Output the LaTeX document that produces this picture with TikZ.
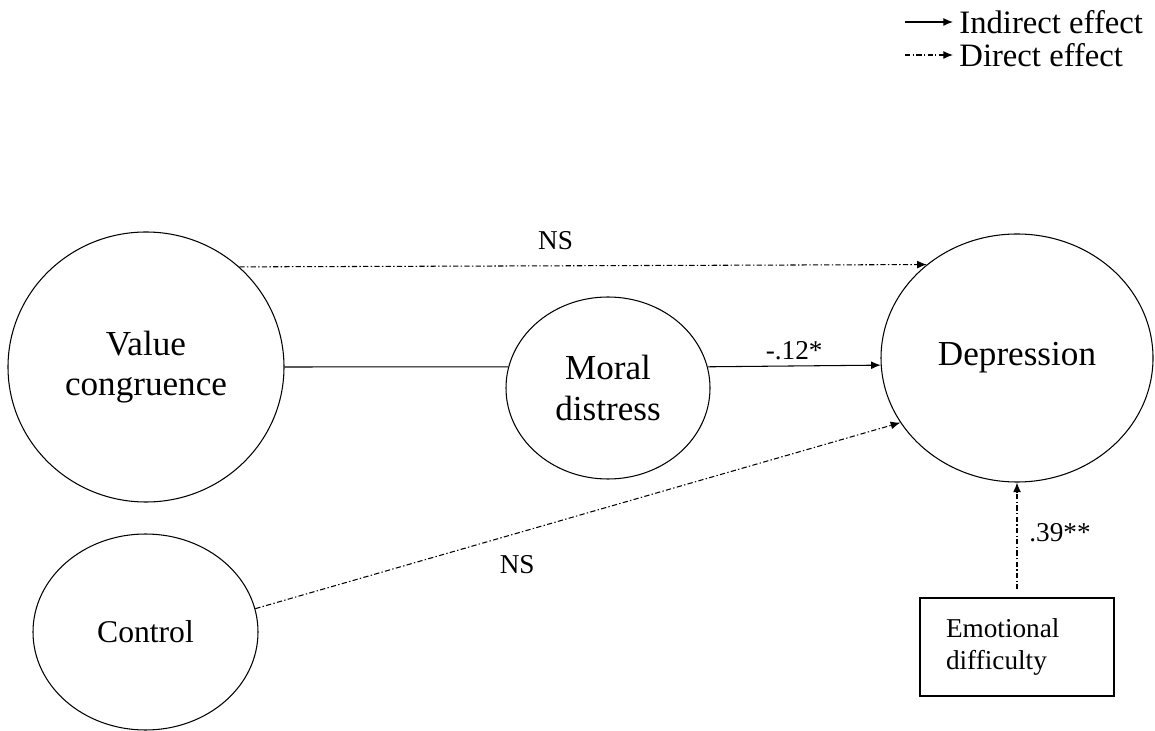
\documentclass[tikz,border=0pt]{standalone}
\usepackage{fontspec}
\setmainfont{Liberation Serif}
\usetikzlibrary{arrows.meta,shapes.geometric}

\begin{document}
\begin{tikzpicture}[line width=0.6pt,
    latent/.style={draw,ellipse,inner sep=0pt,align=center,font=\fontsize{20}{23}\selectfont},
    direct/.style={-{Latex[length=5.5pt,width=4.5pt]},dash pattern=on 3pt off 1.3pt on 0.8pt off 1.3pt},
    indirect/.style={-{Latex[length=5.5pt,width=4.5pt]}},
    lbl/.style={font=\fontsize{15.5}{18}\selectfont},
    legend/.style={anchor=west,font=\fontsize{18.6}{21}\selectfont}]
  \useasboundingbox (0,0) rectangle (23.1,-14.62);
  \node[latent,minimum width=5.52cm,minimum height=5.4cm] (vc) at (2.92,-7.34) {Value\\congruence};
  \node[latent,minimum width=4.08cm,minimum height=3.64cm] (md) at (12.16,-7.76) {Moral\\distress};
  \node[latent,minimum width=5.44cm,minimum height=4.96cm] (dep) at (20.34,-7.16) {Depression};
  \node[latent,minimum width=4.5cm,minimum height=3.92cm,font=\fontsize{18}{21}\selectfont] (ctrl) at (2.91,-12.64) {Control};
  \node[draw,align=left,text width=2.84cm,inner xsep=0.52cm,minimum height=1.96cm,lbl] (emo) at (20.34,-12.94) {Emotional\\difficulty};
  % legend
  \coordinate (indl) at (18.1,-0.44);
  \coordinate (dirl) at (18.1,-1.1);
  \node[legend] (ind) at (19.06,-0.44) {Indirect effect};
  \node[legend] (dir) at (19.06,-1.1) {Direct effect};
  \draw[indirect] (indl) -- (ind.west);
  \draw[direct] (dirl) -- (dir.west);
  % paths
  \path (vc.east) edge (md.168);
  \path[indirect,lbl]
  (md.12) edge node[above] {-.12*} (dep.183);
  \path[direct,lbl]
  (vc.47) edge node[above=0.2cm,pos=0.46] {NS} (dep.134)
  (ctrl.12) edge node[below=0.32cm,pos=0.406] {NS} (dep.209)
  (emo) edge[shorten <=0.16cm] node[right=0.12cm,pos=0.56] {.39**} (dep.south);
\end{tikzpicture}
\end{document}
